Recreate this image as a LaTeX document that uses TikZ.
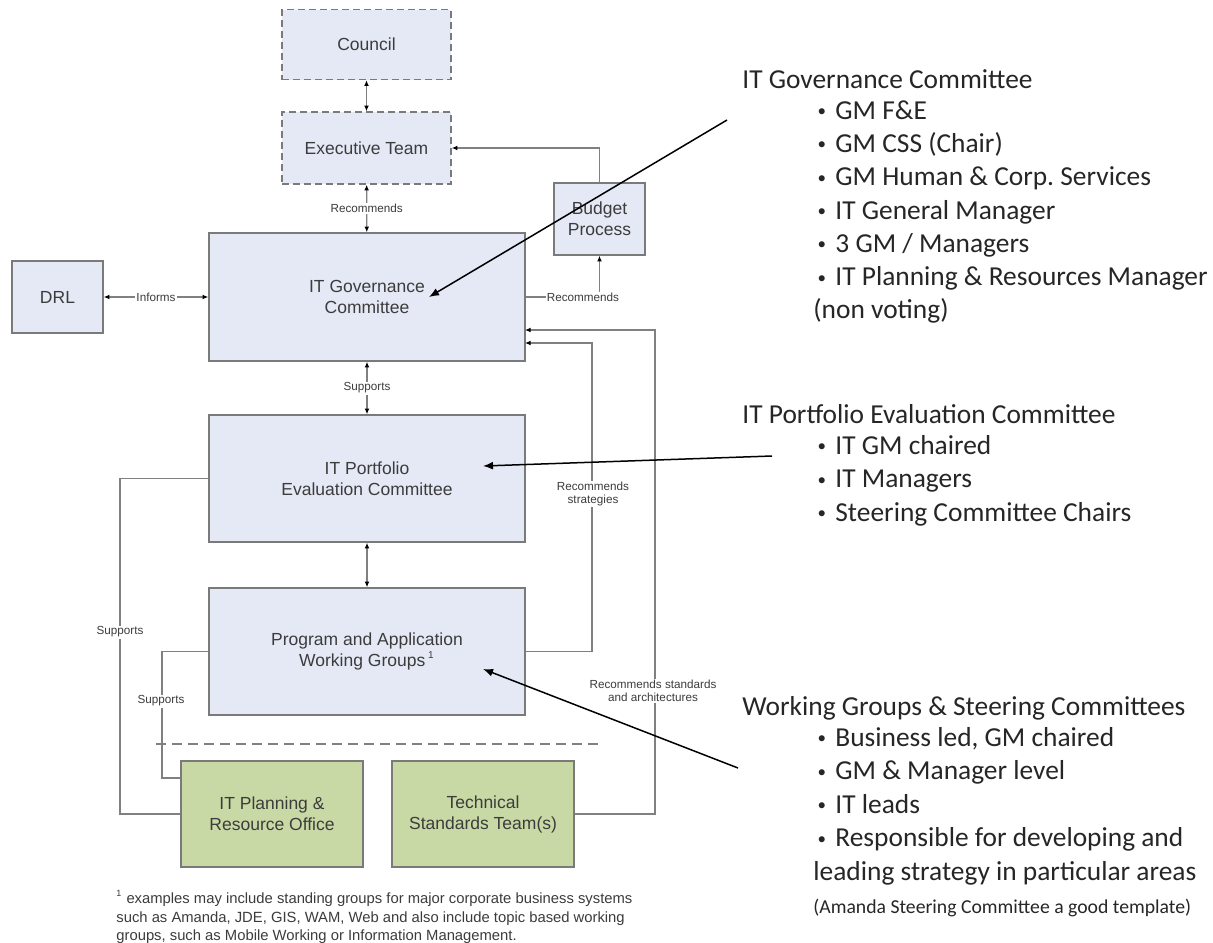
\documentclass[tikz,border=0pt]{standalone}
\usepackage{fontspec}
\usepackage{graphicx}
\usetikzlibrary{arrows.meta}
\newfontfamily\arialf{Liberation Sans}
\newfontfamily\calf{Carlito}
\definecolor{boxfill}{HTML}{E4E9F5}
\definecolor{boxgray}{HTML}{7A7A7A}
\definecolor{greenfill}{HTML}{C8D9A5}
\definecolor{txtgray}{HTML}{3C3C3C}
\definecolor{linegray}{HTML}{808080}
\definecolor{rtext}{HTML}{262626}
\tikzset{
  box/.style={draw=boxgray, line width=0.75pt, fill=boxfill, text=txtgray,
    font=\arialf\fontsize{8.75}{10.5}\selectfont, align=center, inner sep=0pt},
  dbox/.style={box, dash pattern=on 3.5pt off 2pt},
  gbox/.style={box, fill=greenfill},
  conn/.style={draw=linegray, line width=0.65pt},
  lbl/.style={fill=white, inner sep=0.6pt, text=txtgray, align=center,
    font=\arialf\fontsize{5.85}{6.6}\selectfont},
  callout/.style={draw=black, line width=0.75pt, -{Latex[length=5pt,width=4pt]}},
  rt/.style={anchor=base west, inner sep=0pt, text=rtext,
    font=\calf\fontsize{13.7}{16}\selectfont\frenchspacing},
  rts/.style={rt, font=\calf\fontsize{9.85}{12}\selectfont},
  fn/.style={anchor=base west, inner sep=0pt, text=txtgray,
    font=\arialf\fontsize{7.4}{8.5}\selectfont}
}
\newcommand{\bul}[1]{\makebox[9.5pt][l]{\hspace{0.6pt}\raisebox{1.2pt}{\scalebox{0.62}{\textbullet}}}#1}
\begin{document}
\begin{tikzpicture}[x=0.5pt,y=-0.5pt,>={Latex[length=2.8pt,width=2.4pt,color=black]}]
\useasboundingbox (0,0) rectangle (1213,942);
\fill[white] (0,0) rectangle (1213,942);

% boxes
\node[dbox, minimum width=84.5pt, minimum height=35pt] (council) at (366.5,44.5) {Council};
\node[dbox, minimum width=84.5pt, minimum height=36pt] (exec) at (366.5,148) {Executive Team};
\node[box, minimum width=158pt, minimum height=64pt] (gov) at (367,297) {IT Governance\\Committee};
\node[box, minimum width=45.5pt, minimum height=36pt] (drl) at (57.5,297) {DRL};
\node[box, minimum width=45.5pt, minimum height=36pt] (budget) at (599.5,219) {Budget\\Process};
\node[box, minimum width=158pt, minimum height=63.5pt] (port) at (367,478.5) {IT Portfolio\\Evaluation Committee};
\node[box, minimum width=158pt, minimum height=63.5pt] (prog) at (367,651.5) {Program and Application\\Working Groups\,\textsuperscript{\fontsize{5}{6}\selectfont 1}};
\node[gbox, minimum width=91pt, minimum height=53pt] (plan) at (272,814) {IT Planning \&\\Resource Office};
\node[gbox, minimum width=91pt, minimum height=53pt] (tech) at (483,814) {Technical\\Standards Team(s)};

% helper coordinates
\coordinate (g1) at (525,330);
\coordinate (g2) at (525,343);
\coordinate (p1) at (181,778);

% connectors
\draw[conn,<->] (council) -- (exec);
\draw[conn,<->] (exec) -- node[lbl] (lrec1) {Recommends} (gov);
\draw[conn,<->] (drl) -- node[lbl] (linf) {Informs} (gov);
\draw[conn,->] (gov.east) -| (budget.south);
\node[lbl] (lrec2) at (583,297) {Recommends};
\draw[conn,->] (budget.north) |- (exec.east);
\draw[conn,->] (tech.east) -| (655,330) -- (g1);
\draw[conn,->] (prog.east) -| (592,343) -- (g2);
\draw[conn,<->] (gov) -- node[lbl] (lsup1) {Supports} (port);
\draw[conn,<->] (port) -- (prog);
\draw[conn] (port.west) -| (120,814) -- (plan.west);
\draw[conn] (prog.west) -| (162,778) -- (p1);
\node[lbl] (lsup2) at (120,632) {Supports};
\node[lbl] (lsup3) at (161,701) {Supports};
\node[lbl] (lstrat) at (593,494) {Recommends\\strategies};
\node[lbl] (lstd) at (653,691) {Recommends standards\\and architectures};
\draw[conn, dash pattern=on 5pt off 3pt] (156,744) -- (600,744);

% callouts
\coordinate (c1s) at (727,120); \coordinate (c1e) at (429,297);
\coordinate (c2s) at (772,456); \coordinate (c2e) at (483,466);
\coordinate (c3s) at (738,768); \coordinate (c3e) at (483,669);
\draw[callout] (c1s) -- (c1e);
\draw[callout] (c2s) -- (c2e);
\draw[callout] (c3s) -- (c3e);

% right texts
\node[rt] (a0) at (742,88) {IT Governance Committee};
\node[rt] (a1) at (816,119) {\bul{GM F\&E}};
\node[rt] (a2) at (816,152.3) {\bul{GM CSS (Chair)}};
\node[rt] (a3) at (816,185.7) {\bul{GM Human \& Corp. Services}};
\node[rt] (a4) at (816,219) {\bul{IT General Manager}};
\node[rt] (a5) at (816,252.3) {\bul{3 GM / Managers}};
\node[rt] (a6) at (816,285.7) {\bul{IT Planning \& Resources Manager}};
\node[rt] (a7) at (813,318) {(non voting)};

\node[rt] (b0) at (742,423) {IT Portfolio Evaluation Committee};
\node[rt] (b1) at (816,454) {\bul{IT GM chaired}};
\node[rt] (b2) at (816,487.5) {\bul{IT Managers}};
\node[rt] (b3) at (816,521) {\bul{Steering Committee Chairs}};

\node[rt] (w0) at (742,715) {Working Groups \& Steering Committees};
\node[rt] (w1) at (816,746) {\bul{Business led, GM chaired}};
\node[rt] (w2) at (816,779.5) {\bul{GM \& Manager level}};
\node[rt] (w3) at (816,813) {\bul{IT leads}};
\node[rt] (w4) at (816,846.5) {\bul{Responsible for developing and}};
\node[rt] (w5) at (813,880) {leading strategy in particular areas};
\node[rts] (w6) at (813,913) {(Amanda Steering Committee a good template)};

% footnote
\node[fn] (f1) at (116,903) {\textsuperscript{\fontsize{4.5}{5}\selectfont 1} examples may include standing groups for major corporate business systems};
\node[fn] (f2) at (116,922) {such as Amanda, JDE, GIS, WAM, Web and also include topic based working};
\node[fn] (f3) at (116,940) {groups, such as Mobile Working or Information Management.};
\end{tikzpicture}
\end{document}
